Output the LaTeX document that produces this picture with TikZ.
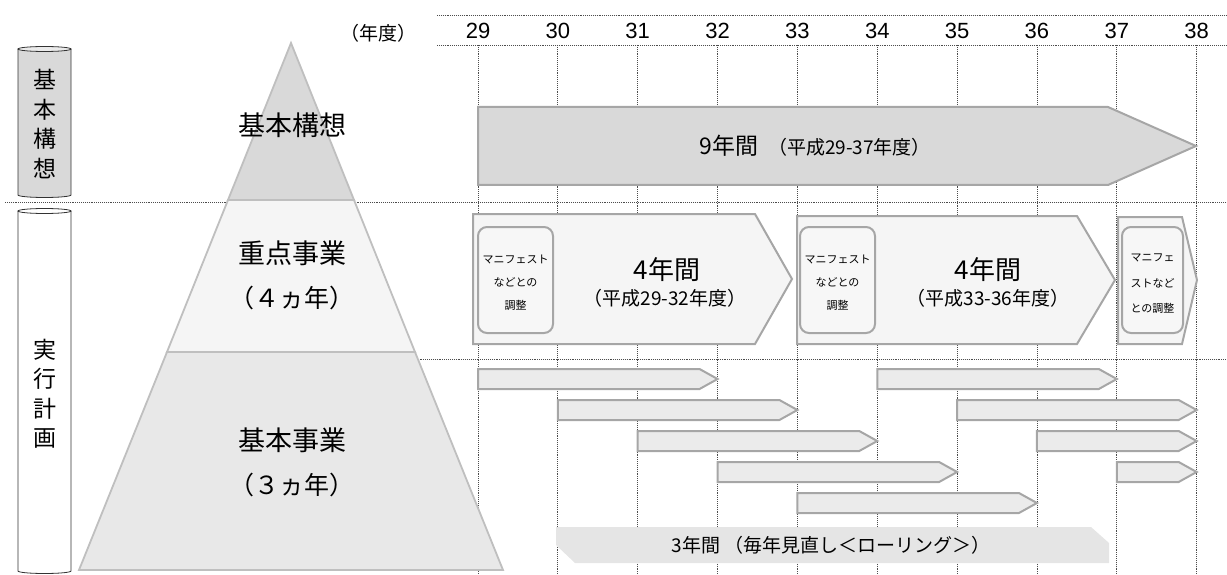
\documentclass[tikz,border=0pt]{standalone}
\usepackage{fontspec}
\setmainfont{Noto Sans CJK JP}
\newfontfamily\yearfont{Liberation Sans}
\newcommand{\fs}[1]{\fontsize{#1}{#1}\selectfont}

\begin{document}
\begin{tikzpicture}[x=1pt, y=-1pt,
    gridline/.style={densely dotted, black!70, line width=0.9pt},
    band/.style={draw=black!25, line width=1.8pt, line join=miter},
    planarrow/.style={draw=black!35, line width=2pt, line join=miter},
    rollbar/.style={draw=black!35, fill=black!8, line width=2pt, line join=miter},
    memo/.style={draw=black!35, fill=black!3, line width=2pt, rounded corners=9pt},
    tube/.style={draw=black!80, line width=0.8pt},
    lbl/.style={inner sep=0pt, align=center}]
  \useasboundingbox (0,0) rectangle (1227,575);

  % year grid
  \draw[gridline] (437,15) -- (1227,15);
  \draw[gridline] (437,45) -- (1227,45);
  \draw[gridline] (5,202) -- (1227,202);
  \draw[gridline] (410,359) -- (1227,359);
  \foreach \yr [count=\i from 0] in {29,...,38} {
    \draw[gridline] (478+79.85*\i,45) -- (478+79.85*\i,575);
    \node[lbl, font=\yearfont\fs{22}] (yr\yr) at (478+79.85*\i,31) {\yr};
  }
  \node[lbl, font=\fs{19}] (unit) at (378,33) {（年度）};

  % side tubes
  \draw[tube, fill=black!15] (18,49) -- (18,195) arc[start angle=180, end angle=0, x radius=26.5, y radius=2.5] -- (71,49);
  \draw[tube, fill=black!8] (44.5,49) ellipse [x radius=26.5, y radius=2.5];
  \node[lbl, font=\fontsize{23}{29.5}\selectfont] (tubeA) at (44.5,124) {基\\本\\構\\想};
  \draw[tube, fill=white] (18,211) -- (18,571) arc[start angle=180, end angle=0, x radius=26.5, y radius=2.5] -- (71,211);
  \draw[tube, fill=white] (44.5,211) ellipse [x radius=26.5, y radius=2.5];
  \node[lbl, font=\fontsize{23}{29.5}\selectfont] (tubeB) at (44.5,394) {実\\行\\計\\画};

  % pyramid
  \draw[band, fill=black!15] (291,43) -- (354,200) -- (228,200) -- cycle;
  \draw[band, fill=black!4] (228,200) -- (354,200) -- (415,352) -- (167,352) -- cycle;
  \draw[band, fill=black!9] (167,352) -- (415,352) -- (503,570) -- (79,570) -- cycle;
  \node[lbl, font=\fs{27}] (vision) at (292,125) {基本構想};
  \node[lbl, font=\fs{27}] (focus) at (292,253) {重点事業};
  \node[lbl, font=\fs{25}] (focusyrs) at (292,298) {（４ヵ年）};
  \node[lbl, font=\fs{27}] (basic) at (292,440) {基本事業};
  \node[lbl, font=\fs{25}] (basicyrs) at (292,485) {（３ヵ年）};

  % 9-year span
  \draw[planarrow, fill=black!15] (478,107) -- (1108,107) -- (1196,146) -- (1108,185) -- (478,185) -- cycle;
  \node[lbl] (span9) at (815,146) {{\fs{23}9年間}\hspace{10pt}{\fs{19}（平成29-37年度）}};

  % 4-year spans
  \draw[planarrow, fill=black!4] (473,214) -- (755,214) -- (792,279) -- (755,344) -- (473,344) -- cycle;
  \draw[memo] (478,227) rectangle (553,333);
  \node[lbl, font=\fontsize{11}{23}\selectfont] (memoA) at (515.5,283) {マニフェスト\\などとの\\調整};
  \node[lbl, font=\fs{26}] (spanA) at (667,270) {4年間};
  \node[lbl, font=\fs{19}] (spanAyrs) at (665,298) {（平成29-32年度）};

  \draw[planarrow, fill=black!4] (797,216) -- (1077,216) -- (1115,280) -- (1077,344) -- (797,344) -- cycle;
  \draw[memo] (800,227) rectangle (875,333);
  \node[lbl, font=\fontsize{11}{23}\selectfont] (memoB) at (837.5,283) {マニフェスト\\などとの\\調整};
  \node[lbl, font=\fs{26}] (spanB) at (988,270) {4年間};
  \node[lbl, font=\fs{19}] (spanByrs) at (988,298) {（平成33-36年度）};

  \draw[planarrow, fill=black!4] (1118,217) -- (1182,217) -- (1197,280) -- (1182,344) -- (1118,344) -- cycle;
  \draw[memo] (1122,227) rectangle (1183,333);
  \node[lbl, font=\fontsize{11}{25.5}\selectfont] (memoC) at (1152.5,284) {マニフェ\\ストなど\\との調整};

  % rolling 3-year bars
  \foreach \s/\e/\r in {0/3/0, 1/4/1, 2/5/2, 3/6/3, 4/7/4, 5/8/0, 6/9/1, 7/9/2, 8/9/3} {
    \pgfmathsetmacro\xs{478+79.85*\s}
    \pgfmathsetmacro\xe{478+79.85*\e}
    \pgfmathsetmacro\yt{369+31*\r}
    \draw[rollbar] (\xs,\yt) -- (\xe-18,\yt) -- (\xe,\yt+10) -- (\xe-18,\yt+20) -- (\xs,\yt+20) -- cycle;
  }

  % rolling note
  \fill[black!10] (556,527) -- (1091,527) -- (1109,543) -- (1109,563) -- (575,563) -- (556,545) -- cycle;
  \node[lbl, font=\fs{19}] (rolling) at (831,545) {3年間 （毎年見直し＜ローリング＞）};
\end{tikzpicture}
\end{document}
